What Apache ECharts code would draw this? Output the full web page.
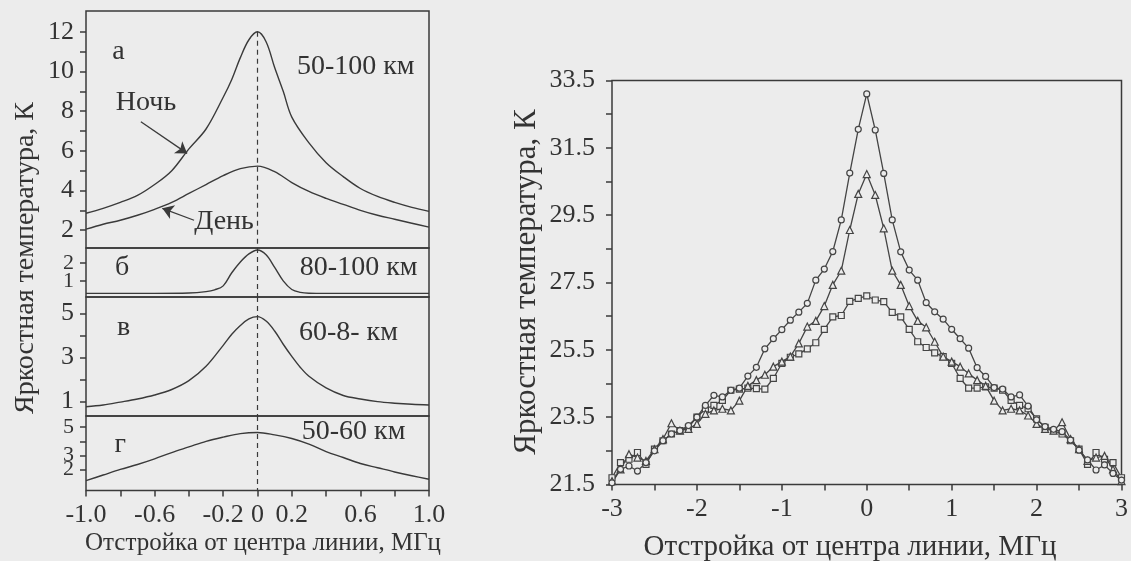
<!DOCTYPE html>
<html><head><meta charset="utf-8">
<script src="https://cdn.jsdelivr.net/npm/echarts@6/dist/echarts.min.js"></script>
<style>html,body{margin:0;padding:0;background:#ececec}#c{width:1131px;height:561px}</style>
</head><body><div id="c"></div>
<script>
// ---------- Left figure (four panels), detuning in MHz ----------
const nightX = [-1.0,-0.9,-0.8,-0.7,-0.6,-0.5,-0.4,-0.3,-0.2,-0.15,-0.1,-0.05,0,0.05,0.1,0.15,0.2,0.3,0.4,0.5,0.6,0.7,0.8,0.9,1.0];
const nightY = [2.85,3.1,3.4,3.75,4.3,5.0,6.1,7.1,8.7,9.6,10.7,11.6,12.0,11.5,10.2,9.0,7.7,6.4,5.4,4.7,4.1,3.7,3.4,3.15,2.95];
const dayX = [-1.0,-0.9,-0.8,-0.7,-0.6,-0.5,-0.4,-0.3,-0.2,-0.1,0,0.1,0.2,0.3,0.4,0.5,0.6,0.7,0.8,0.9,1.0];
const dayY = [2.05,2.3,2.5,2.75,3.05,3.4,3.85,4.3,4.75,5.1,5.23,4.95,4.4,3.95,3.6,3.3,3.0,2.75,2.55,2.35,2.15];
const bX = [-1.0,-0.6,-0.4,-0.3,-0.25,-0.2,-0.15,-0.1,-0.05,0,0.05,0.1,0.15,0.2,0.25,0.3,0.4,0.6,1.0];
const bY = [0.3,0.3,0.32,0.4,0.5,0.72,1.45,2.05,2.5,2.72,2.45,1.75,1.0,0.52,0.36,0.31,0.3,0.3,0.3];
const vX = [-1.0,-0.9,-0.8,-0.7,-0.6,-0.5,-0.4,-0.3,-0.2,-0.15,-0.1,-0.05,0,0.05,0.1,0.15,0.2,0.25,0.3,0.4,0.5,0.6,0.7,0.8,0.9,1.0];
const vY = [0.77,0.85,0.98,1.12,1.3,1.55,1.95,2.6,3.55,4.05,4.45,4.75,4.85,4.65,4.2,3.6,3.05,2.55,2.15,1.62,1.28,1.12,1.0,0.93,0.88,0.85];
const gX = [-1.0,-0.9,-0.8,-0.7,-0.6,-0.5,-0.4,-0.3,-0.2,-0.1,0,0.1,0.2,0.3,0.4,0.5,0.6,0.7,0.8,0.9,1.0];
const gY = [1.2,1.6,2.0,2.35,2.75,3.2,3.6,4.0,4.3,4.55,4.63,4.46,4.2,3.8,3.27,2.85,2.42,2.12,1.82,1.55,1.3];

const leftTicksX = [-1,-0.8,-0.6,-0.4,-0.2,0,0.2,0.4,0.6,0.8,1];
const leftLabelsX = [-1,-0.6,-0.2,0,0.2,0.6,1];
const aTicks = [2,3,4,5,6,7,8,9,10,11,12], aLabels = [2,4,6,8,10,12];
const bTicks = [1], bLabels = [1], bTicks2 = [2], bLabels2 = [2];
const vTicks = [1,2,3,4,5], vLabels = [1,3,5];
const gTicks = [2,4,5], gLabels = [2,5], gTicks2 = [3], gLabels2 = [3];

// ---------- Right figure ----------
const rightX = [-3.0,-2.9,-2.8,-2.7,-2.6,-2.5,-2.4,-2.3,-2.2,-2.1,-2.0,-1.9,-1.8,-1.7,-1.6,-1.5,-1.4,-1.3,-1.2,-1.1,-1.0,-0.9,-0.8,-0.7,-0.6,-0.5,-0.4,-0.3,-0.2,-0.1,0,0.1,0.2,0.3,0.4,0.5,0.6,0.7,0.8,0.9,1.0,1.1,1.2,1.3,1.4,1.5,1.6,1.7,1.8,1.9,2.0,2.1,2.2,2.3,2.4,2.5,2.6,2.7,2.8,2.9,3.0];
const circlesY = [21.55,21.95,22.05,21.9,22.15,22.5,22.8,23.0,23.1,23.25,23.5,23.85,24.15,24.1,24.3,24.36,24.72,24.98,25.53,25.83,26.1,26.38,26.62,26.88,27.57,27.9,28.42,29.36,30.75,32.05,33.1,32.03,30.74,29.36,28.41,27.87,27.57,26.9,26.63,26.41,26.11,25.83,25.55,24.97,24.71,24.38,24.33,24.1,24.16,23.83,23.42,23.22,23.14,23.07,22.82,22.52,22.23,21.93,22.08,21.83,21.63];
const trianglesY = [21.6,21.95,22.4,22.3,22.2,22.55,22.85,23.32,23.1,23.15,23.3,23.6,23.7,23.75,23.7,23.99,24.43,24.6,24.76,25.0,25.15,25.3,25.69,26.19,26.36,26.8,27.43,27.85,29.06,30.13,30.72,30.1,29.11,27.85,27.43,26.8,26.36,26.17,25.74,25.3,25.15,25.0,24.8,24.6,24.43,23.99,23.7,23.75,23.7,23.55,23.3,23.15,23.1,23.35,22.85,22.55,22.2,22.3,22.35,21.95,21.6];
const squaresY = [21.7,22.15,22.25,22.45,22.1,22.55,22.8,23.0,23.1,23.2,23.5,23.75,23.85,24.0,24.3,24.33,24.36,24.35,24.33,24.65,25.1,25.28,25.38,25.53,25.71,26.11,26.48,26.52,26.94,27.03,27.1,26.98,26.93,26.61,26.48,26.11,25.74,25.57,25.41,25.3,25.1,24.65,24.36,24.36,24.4,24.36,24.3,24.0,23.85,23.75,23.45,23.2,23.1,23.0,22.8,22.55,22.1,22.45,22.25,22.15,21.7];
const rightTicksX = [-3,-2.5,-2,-1.5,-1,-0.5,0,0.5,1,1.5,2,2.5,3];
const rightLabelsX = [-3,-2,-1,0,1,2,3];
const rightTicksY = [21.5,22.5,23.5,24.5,25.5,26.5,27.5,28.5,29.5,30.5,31.5,32.5,33.5];
const rightLabelsY = [21.5,23.5,25.5,27.5,29.5,31.5,33.5];

const INK = '#3a3a3a', TXT = '#333';
const FONT = 'Liberation Serif';
const zip = (xs, ys) => xs.map((x, i) => [x, ys[i]]);

function grid(left, top, width, height) {
  return {left, top, width, height, show: true, borderColor: INK, borderWidth: 1.5, backgroundColor: 'transparent', containLabel: false};
}
function xAx(gi, show) {
  return {type: 'value', gridIndex: gi, min: -1, max: 1,
    axisLine: {show: false, onZero: false}, splitLine: {show: false},
    axisTick: {show: show, customValues: leftTicksX, length: 6, lineStyle: {color: INK, width: 1.5}},
    axisLabel: {show: show, customValues: leftLabelsX, margin: 12, color: TXT, fontFamily: FONT, fontSize: 26, showMinLabel: true, showMaxLabel: true,
      formatter: v => Math.abs(v) < 1e-9 ? '0' : v.toFixed(1)}};
}
function yAx(gi, min, max, ticks, labels, fs) {
  return {type: 'value', gridIndex: gi, min, max, position: 'left',
    axisLine: {show: false, onZero: false}, splitLine: {show: false},
    axisTick: {show: true, customValues: ticks, length: 6, lineStyle: {color: INK, width: 1.5}},
    axisLabel: {customValues: labels, margin: 12, color: TXT, fontFamily: FONT, fontSize: fs || 26, showMinLabel: true, showMaxLabel: true, hideOverlap: false}};
}
const txt = (x, y, s, size) => ({coord: [x, y], symbolSize: 0, label: {show: true, formatter: s, color: TXT, fontFamily: FONT, fontSize: size || 28, position: 'inside'}});
const dash = (top, bot) => ({symbol: 'none', silent: true, label: {show: false}, lineStyle: {type: [5, 4], color: INK, width: 1.2},
  data: [[{coord: [0, top]}, {coord: [0, bot]}]]});
const lineS = (gi, data, extra) => Object.assign({type: 'line', xAxisIndex: gi, yAxisIndex: gi, data, smooth: 0.35, showSymbol: false,
  lineStyle: {color: INK, width: 1.4}, silent: true, animation: false}, extra || {});

const mk = (sym, data) => ({type: 'line', xAxisIndex: 4, yAxisIndex: 4, data, symbol: sym, symbolSize: sym === 'triangle' ? 7 : 6,
  showSymbol: true, lineStyle: {color: '#444', width: 1.3}, itemStyle: {color: '#ececec', borderColor: '#444', borderWidth: 1.2}, animation: false, silent: true});

const option = {
  backgroundColor: '#ececec',
  animation: false,
  grid: [grid(86, 11, 343, 237), grid(86, 248, 343, 49), grid(86, 297, 343, 119), grid(86, 416, 343, 74.5), grid(612, 80.5, 510, 404)],
  xAxis: [xAx(0, false), xAx(1, false), xAx(2, false), xAx(3, true),
    {type: 'value', gridIndex: 4, min: -3, max: 3, axisLine: {show: false, onZero: false}, splitLine: {show: false},
      axisTick: {customValues: rightTicksX, length: 6, lineStyle: {color: INK, width: 1.5}},
      axisLabel: {customValues: rightLabelsX, margin: 12, color: TXT, fontFamily: FONT, fontSize: 26, showMinLabel: true, showMaxLabel: true}}],
  yAxis: [yAx(0, 1.1, 13.05, aTicks, aLabels), yAx(1, 0.1, 2.83, bTicks, bLabels, 22), yAx(2, 0.35, 5.74, vTicks, vLabels), yAx(3, 0.5, 5.8, gTicks, gLabels, 22),
    {type: 'value', gridIndex: 4, min: 21.5, max: 33.5, axisLine: {show: false, onZero: false}, splitLine: {show: false},
      axisTick: {customValues: rightTicksY, length: 6, lineStyle: {color: INK, width: 1.5}},
      axisLabel: {customValues: rightLabelsY, margin: 17, color: TXT, fontFamily: FONT, fontSize: 26, showMinLabel: true, showMaxLabel: true, formatter: v => v.toFixed(1)}},
    yAx(1, 0.1, 2.83, bTicks2, bLabels2, 22), yAx(3, 0.5, 5.8, gTicks2, gLabels2, 22)],
  graphic: [
    {type: 'text', x: 26, y: 258, rotation: Math.PI / 2, style: {text: 'Яркостная температура, К', font: '28px "Liberation Serif"', fill: TXT, align: 'center', verticalAlign: 'middle'}},
    {type: 'text', x: 263, y: 543, style: {text: 'Отстройка от центра линии, МГц', font: '25px "Liberation Serif"', fill: TXT, align: 'center', verticalAlign: 'middle'}},
    {type: 'text', x: 527, y: 282, rotation: Math.PI / 2, style: {text: 'Яркостная температура, К', font: '31px "Liberation Serif"', fill: TXT, align: 'center', verticalAlign: 'middle'}},
    {type: 'text', x: 850, y: 547, style: {text: 'Отстройка от центра линии, МГц', font: '29px "Liberation Serif"', fill: TXT, align: 'center', verticalAlign: 'middle'}}
  ],
  series: [
    lineS(0, zip(nightX, nightY), {
      markLine: dash(12, 1.1),
      markPoint: {symbol: 'circle', data: [txt(-0.81, 11.0, 'а'), txt(-0.65, 8.41, 'Ночь'), txt(-0.195, 2.42, 'День'), txt(0.573, 10.25, '50-100 км')]}
    }),
    lineS(0, zip(dayX, dayY), {
      markLine: {symbol: ['none', 'arrow'], symbolSize: 11, silent: true, label: {show: false}, lineStyle: {type: 'solid', color: INK, width: 1.3},
        data: [[{coord: [-0.68, 7.47]}, {coord: [-0.41, 5.87]}], [{coord: [-0.37, 2.5]}, {coord: [-0.555, 3.1]}]]}
    }),
    lineS(1, zip(bX, bY), {markLine: dash(2.83, 0.1), markPoint: {symbol: 'circle', data: [txt(-0.79, 1.76, 'б'), txt(0.59, 1.74, '80-100 км')]}}),
    lineS(2, zip(vX, vY), {markLine: dash(5.74, 0.35), markPoint: {symbol: 'circle', data: [txt(-0.78, 4.35, 'в'), txt(0.53, 4.11, '60-8- км')]}}),
    lineS(3, zip(gX, gY), {markLine: dash(5.8, 0.5), markPoint: {symbol: 'circle', data: [txt(-0.80, 3.75, 'г'), txt(0.56, 4.7, '50-60 км')]}}),
    mk('rect', zip(rightX, squaresY)),
    mk('triangle', zip(rightX, trianglesY)),
    mk('circle', zip(rightX, circlesY))
  ]
};
echarts.init(document.getElementById('c')).setOption(option);
</script></body></html>
